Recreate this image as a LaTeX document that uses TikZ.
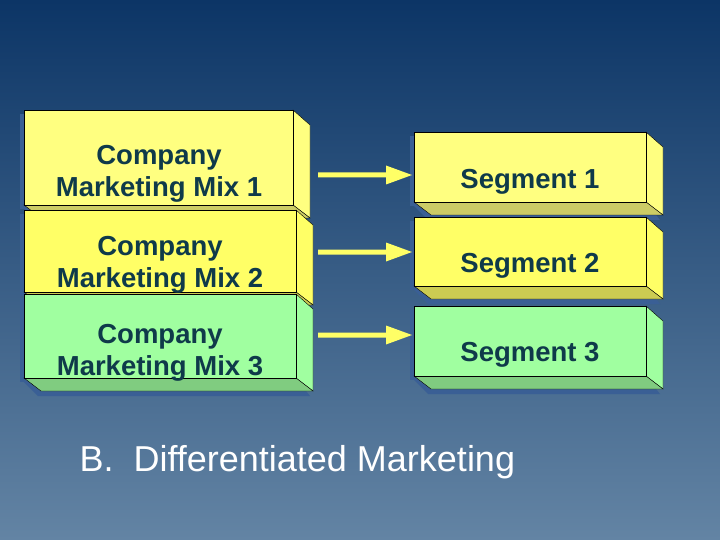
\documentclass[tikz,border=0pt]{standalone}
\usepackage{fontspec}
\setmainfont{Liberation Sans}
\begin{document}
\begin{tikzpicture}[x=1pt,y=-1pt,
  lbl/.style={font=\bfseries\fontsize{27.5}{32}\selectfont,text=txt,align=center}]
\definecolor{bgtop}{HTML}{0C3566}
\definecolor{bgbot}{HTML}{6384A4}
\definecolor{txt}{HTML}{0F3A4A}
\definecolor{yel}{HTML}{FFFF80}
\definecolor{yel2}{HTML}{FFFF66}
\definecolor{grn}{HTML}{A0FFA0}
\definecolor{shd}{HTML}{3A5F95}
\definecolor{arr}{HTML}{FFFF66}
\shade[top color=bgtop,bottom color=bgbot] (0,0) rectangle (720,540);
\useasboundingbox (0,0) rectangle (720,540);
% box macro: x0,y0,x1,y1,fill,name,text,textx,texty
\newcommand{\tdbox}[9]{%
  \fill[shd] (#1-4,#2+4) rectangle (#3-4,#4+4);
  \fill[shd] (#1-4,#4) -- (#1+14,#4+18) -- (#3+14,#4+18) -- (#3,#4) -- cycle;
  \draw[black,fill=#5] (#3,#2) -- (#3+17,#2+15) -- (#3+17,#4+13) -- (#3,#4) -- cycle;
  \draw[black,fill=#5!80!black] (#1,#4) -- (#3,#4) -- (#3+17,#4+13) -- (#1+17,#4+13) -- cycle;
  \node[draw=black,fill=#5,minimum width=#3-#1,minimum height=#4-#2,inner sep=0,anchor=north west] (#6) at (#1,#2) {};
  \node[lbl] (#6t) at (#8,#9) {#7};
}
\tdbox{24}{110}{293}{205}{yel}{c1}{Company\\Marketing Mix 1}{159}{174}
\tdbox{24}{210}{296}{292}{yel2}{c2}{Company\\Marketing Mix 2}{160}{265}
\tdbox{24}{294}{296}{378}{grn}{c3}{Company\\Marketing Mix 3}{160}{353}
\tdbox{414}{132}{646}{202}{yel}{s1}{Segment 1}{530}{182}
\tdbox{414}{217}{646}{286}{yel2}{s2}{Segment 2}{530}{266}
\tdbox{414}{306}{646}{376}{grn}{s3}{Segment 3}{530}{355}
\foreach \y/\a/\b in {175/c1/s1,252/c2/s2,335/c3/s3}{
  \coordinate (a\a) at (318,\y); \coordinate (b\a) at (412,\y);
  \fill[arr] (a\a)++(0,-2.5) -- ++(68,0) -- ++(0,-7) -- (b\a) -- (386,\y+9.5) -- ++(0,-7) -- (318,\y+2.5) -- cycle;
}
\node[text=white,font=\fontsize{36}{40}\selectfont,anchor=west] (t) at (76,462) {B.\ \ Differentiated Marketing};
\end{tikzpicture}
\end{document}
